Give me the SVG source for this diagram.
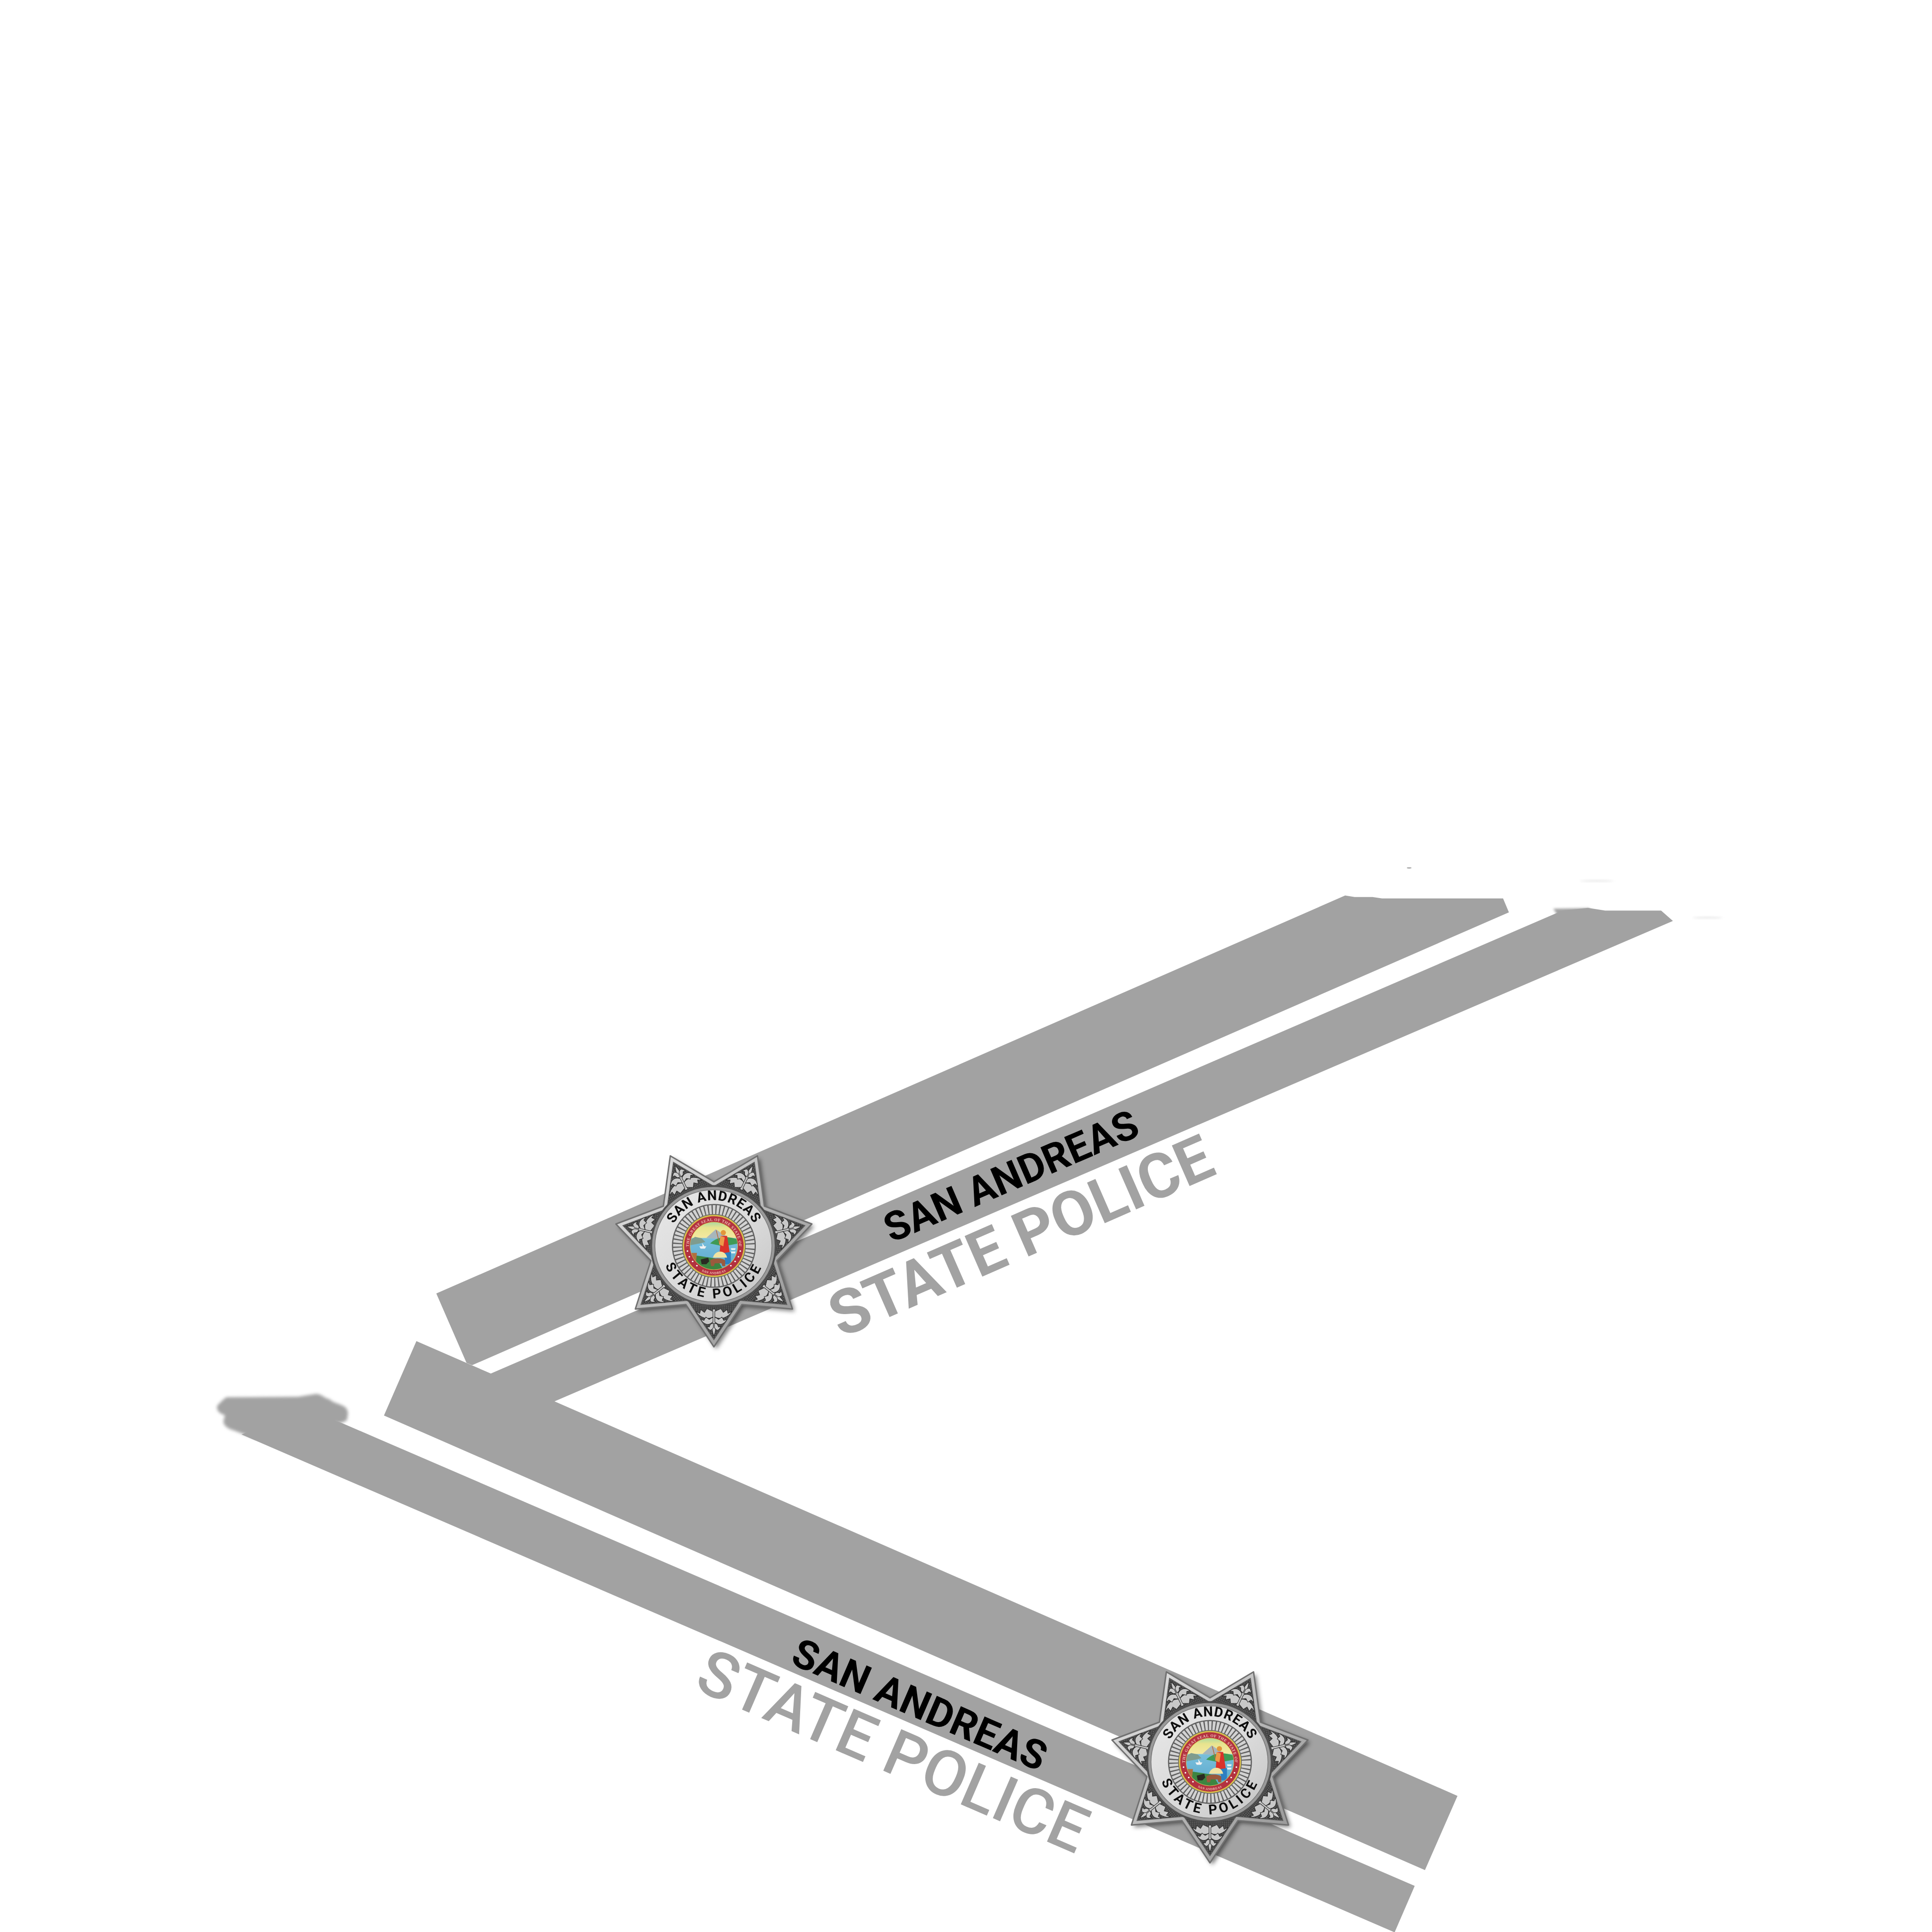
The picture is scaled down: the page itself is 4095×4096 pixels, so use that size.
<svg xmlns="http://www.w3.org/2000/svg" width="4095" height="4096" viewBox="0 0 4095 4096">
<style>
.band{fill:#a2a2a2}
.t{font-family:Roboto,"Liberation Sans",sans-serif;font-weight:700}
.black{fill:#000;font-size:85.5px}
.grey{fill:#a2a2a2;font-size:132px}
.grey.lower{font-size:135px;font-weight:500}
.ring{font-family:Roboto,"Liberation Sans",sans-serif;font-weight:700;fill:#111}
.micro{font-family:"Liberation Serif",serif;fill:#f3c9bd;font-weight:700}
</style>
<defs>
<filter id="blurB" x="-30%" y="-30%" width="160%" height="160%"><feGaussianBlur stdDeviation="3"/></filter>
<filter id="blurS" x="-30%" y="-100%" width="160%" height="300%"><feGaussianBlur stdDeviation="2.5"/></filter>
<filter id="soft" x="-5%" y="-5%" width="110%" height="110%"><feGaussianBlur stdDeviation="0.7"/></filter>
<filter id="tsoft" x="-5%" y="-5%" width="110%" height="110%"><feGaussianBlur stdDeviation="0.35"/></filter>
<filter id="shadow" x="-15%" y="-15%" width="130%" height="130%"><feGaussianBlur stdDeviation="5"/></filter>
<pattern id="stip" width="4" height="4" patternUnits="userSpaceOnUse"><rect width="4" height="4" fill="#404040"/><circle cx="1" cy="1" r=".9" fill="#808080"/></pattern>
<linearGradient id="silver" x1="0" y1="0" x2="1" y2="1"><stop offset="0" stop-color="#e8e8e8"/><stop offset=".45" stop-color="#bcbcbc"/><stop offset="1" stop-color="#8e8e8e"/></linearGradient>
<linearGradient id="face" x1="0" y1="0" x2="1" y2="1"><stop offset="0" stop-color="#e8e8e8"/><stop offset=".6" stop-color="#d8d8d8"/><stop offset="1" stop-color="#c4c4c4"/></linearGradient>
<linearGradient id="sky" x1="0" y1="0" x2="0" y2="1"><stop offset="0" stop-color="#a8d8a0"/><stop offset=".12" stop-color="#e8e48e"/><stop offset=".32" stop-color="#f4e8a0"/><stop offset=".34" stop-color="#78bedb"/><stop offset="1" stop-color="#5ba8cc"/></linearGradient>
<clipPath id="sealClip"><circle cx="0" cy="-1" r="50"/></clipPath>
<path id="topArc" d="M-97,-1 A97,97 0 0 1 97,-1"/>
<path id="botArc" d="M-111,-1 A111,111 0 0 0 111,-1"/>
<path id="sealTop" d="M-53,-1 A53,53 0 0 1 53,-1"/>
<path id="sealBot" d="M-60,-1 A60,60 0 0 0 60,-1"/>
<g id="lobes">
<path d="M-2,-150 C-14,-156 -30,-152 -38,-138 L-30,-142 L-28,-134 L-20,-140 L-15,-132 L-2,-138Z"/>
<path d="M-2,-160 C-10,-168 -20,-168 -28,-155 L-21,-157 L-17,-150 L-10,-155 L-2,-150Z"/>
<path d="M-1,-172 C-6,-180 -10,-180 -15,-170 L-10,-171 L-7,-165 L-1,-163Z"/>
</g>
<g id="arm">
<polygon points="0,-198 -55,-115 55,-115" fill="url(#stip)" stroke="#5e5e5e" stroke-width="1.5"/>
<g fill="#c8c8c8" stroke="#262626" stroke-width="1.1">
<path d="M0,-190 C-4,-180 -5,-170 -3,-160 L-3,-133 L3,-133 L3,-160 C5,-170 4,-180 0,-190Z"/>
<use href="#lobes"/>
<use href="#lobes" transform="scale(-1,1)"/>
</g>
</g>
<g id="badge">
<polygon points="0,213 -59.4,123.4 -166.5,132.8 -133.6,30.5 -207.7,-47.4 -107.1,-85.4 -92.4,-191.9 0,-137 92.4,-191.9 107.1,-85.4 207.7,-47.4 133.6,30.5 166.5,132.8 59.4,123.4" transform="translate(5,5)" fill="#000" opacity=".5" filter="url(#shadow)"/>
<g filter="url(#soft)">
<polygon points="0,213 -59.4,123.4 -166.5,132.8 -133.6,30.5 -207.7,-47.4 -107.1,-85.4 -92.4,-191.9 0,-137 92.4,-191.9 107.1,-85.4 207.7,-47.4 133.6,30.5 166.5,132.8 59.4,123.4" fill="url(#silver)" stroke="#707070" stroke-width="3" stroke-linejoin="round"/>
<use href="#arm" transform="rotate(180)"/>
<use href="#arm" transform="rotate(231.43)"/>
<use href="#arm" transform="rotate(282.86)"/>
<use href="#arm" transform="rotate(334.29)"/>
<use href="#arm" transform="rotate(25.71)"/>
<use href="#arm" transform="rotate(77.14)"/>
<use href="#arm" transform="rotate(128.57)"/>
<ellipse cx="-1" cy="-1" rx="134" ry="129" fill="#4e4e4e"/>
<ellipse cx="-1" cy="-1" rx="130" ry="125" fill="#9a9a9a"/>
<ellipse cx="-1" cy="-1" rx="124" ry="119" fill="url(#face)" stroke="#777" stroke-width="1.5"/>
<circle cx="0" cy="-1" r="89" fill="#5e5e5e"/>
<circle cx="0" cy="-1" r="77" fill="none" stroke="#d2d2d2" stroke-width="19" stroke-dasharray="5.5 2.5"/>
<circle cx="0" cy="-1" r="67" fill="#6e6e6e"/>
</g>
<g filter="url(#tsoft)">
<text class="ring" font-size="29" letter-spacing="1" text-anchor="middle"><textPath href="#topArc" startOffset="50%">SAN ANDREAS</textPath></text>
<text class="ring" font-size="29" letter-spacing="6" text-anchor="middle"><textPath href="#botArc" startOffset="50%">STATE POLICE</textPath></text>
</g>
<g id="seal" filter="url(#tsoft)">
<circle cx="0" cy="-1" r="66" fill="#d9bf4a"/>
<circle cx="0" cy="-1" r="63" fill="#b3323f"/>
<circle cx="0" cy="-1" r="51" fill="#d9bf4a"/>
<text class="micro" font-size="8.5" letter-spacing=".7" text-anchor="middle"><textPath href="#sealTop" startOffset="50%">THE GREAT SEAL OF THE STATE OF</textPath></text>
<text class="micro" font-size="7" letter-spacing=".4" text-anchor="middle"><textPath href="#sealBot" startOffset="50%">SAN ANDREAS</textPath></text>
<g fill="#fff">
<circle cx="-56" cy="10" r="1.7"/><circle cx="-52" cy="22" r="1.7"/><circle cx="-45" cy="32" r="1.7"/><circle cx="-36" cy="41" r="1.7"/>
<circle cx="56" cy="10" r="1.7"/><circle cx="52" cy="22" r="1.7"/><circle cx="45" cy="32" r="1.7"/><circle cx="36" cy="41" r="1.7"/>
</g>
<g clip-path="url(#sealClip)">
<rect x="-52" y="-52" width="104" height="104" fill="url(#sky)"/>
<path d="M-52,-12 L-40,-20 L-26,-17 L-18,-9 L-30,-6 L-52,-2Z" fill="#7f9c8e"/>
<path d="M-16,-18 L4,-36 L16,-28 L26,-22 L30,-14Z" fill="#a7b6bb"/>
<path d="M-8,-6 C8,-22 30,-22 52,-14 L52,-6 L20,0Z" fill="#3f9a55"/>
<path d="M-52,18 C-30,20 -10,24 6,26 L20,50 L-52,52Z" fill="#3c8540"/>
<path d="M-50,14 L-36,14 L-38,34 L-50,34Z" fill="#b0703c"/>
<path d="M-31,0 L-16,0 L-19,5 L-28,5Z M-25,-7 L-24,0 L-20,0Z" fill="#f2f2f2"/>
<path d="M36,4 L46,4 L45,8 L37,8Z M36,11 L46,11 L45,15 L37,15Z" fill="#e8f2f2"/>
<path d="M5,-34 L12,-6" stroke="#b86a3a" stroke-width="1.6" fill="none"/>
<circle cx="20" cy="-29" r="5.5" fill="#e2973a"/>
<path d="M15,-22 L28,-22 L34,16 L12,16Z" fill="#d9302b"/>
<path d="M14,-22 L23,-19 L20,0 L11,-4Z" fill="#ec9a4a"/>
<path d="M22,14 L36,12 L36,38 L24,38Z" fill="#2f7fc1"/>
<path d="M-2,24 C2,8 24,6 28,24Z" fill="#f1e3a2"/>
<path d="M-8,30 C0,24 18,24 24,30 L24,42 L18,42 L16,36 L2,36 L0,42 L-6,42Z" fill="#9a5a3e"/>
<path d="M-28,28 L-12,24 L-10,32 L-16,38 L-26,38Z" fill="#2a2a22"/>
</g>
</g>
</g>
</defs>
<g transform="scale(0.99976)">
<g id="bands">
<polygon id="band-a" class="band" points="925,2743 2851.8,1899 2872,1902.3 2910,1902.3 2930,1905.3 3186.6,1905.3 3199,1934.7 1001,2895 989,2890"/>
<path id="band-b-shadow" class="band" d="M3293,1927 L3370,1926 L3370,1945 L3305,1945Z" filter="url(#blurS)"/>
<polygon id="band-b-c" class="band" points="882.8,2844 1040.6,2912.7 3312,1931 3366.7,1925.3 3403,1931 3521.7,1931 3546.7,1953 1175.6,2971.7 3090,3808.3 3021,3965.7 814,3001.7"/>
<path id="band-d-end" class="band" d="M474.6,3000 C462,2997 456,2985 463,2978 C468,2974 472,2968 480,2963 L632,2962 L670,2956 C682,2956 688,2966 698.5,2967 C706,2976 722,2976 733,2985 C741,2995 736,3002 736,3010 C733,3015 725,3018 712,3018 L540,3050 L494.7,3033 C480,3029 472,3020 474,3012 C476,3005 478,3002 474.6,3000Z" filter="url(#blurB)"/>
<polygon id="band-d" class="band" points="640,2990 722,3016.5 2999.3,3999.3 2957,4097 2955,4097 512,3042"/>
<ellipse cx="2987.5" cy="1840.5" rx="5" ry="1.4" fill="#a2a2a2" id="fleck-1"/>
<ellipse cx="3385" cy="1868" rx="36" ry="1.2" fill="#dcdcdc" filter="url(#blurS)" id="fleck-2"/>
<ellipse cx="3620" cy="1946" rx="32" ry="1.2" fill="#dcdcdc" filter="url(#blurS)" id="fleck-3"/>
</g>
<g id="label-upper">
<text class="t black" transform="translate(1890,2636) rotate(-23.4)">SAN ANDREAS</text>
<text class="t grey" transform="translate(1783,2838) rotate(-23.6)">STATE POLICE</text>
</g>
<g id="label-lower">
<text class="t black" transform="translate(1673,3527) rotate(23.4)">SAN ANDREAS</text>
<text class="t grey lower" transform="translate(1468,3580) rotate(23.4)">STATE POLICE</text>
</g>
<g id="badge-1" transform="translate(1513.5,2643)"><use href="#badge"/></g>
<g id="badge-2" transform="translate(2565.2,3737.3)"><use href="#badge"/></g>
</g>
</svg>
